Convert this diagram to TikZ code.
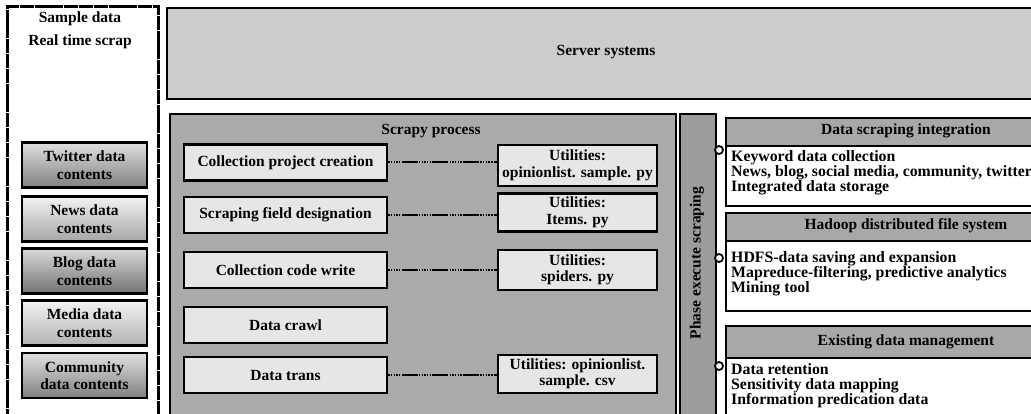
\documentclass[tikz,border=0pt]{standalone}
\usepackage{fontspec}
\setmainfont{Liberation Serif}
\definecolor{serverfill}{HTML}{CCCCCC}
\definecolor{panelfill}{HTML}{AAAAAA}
\definecolor{boxfill}{HTML}{E6E6E6}
\definecolor{headfill}{HTML}{A8A8A8}
\begin{document}
\begin{tikzpicture}[x=1pt,y=-1pt]
\tikzset{
  txt/.style={font=\bfseries\fontsize{15.5}{17}\selectfont, inner sep=0pt, align=center},
  srcbox/.style={draw, line width=2.2pt, minimum width=125pt, minimum height=45pt, align=center, inner sep=1pt, font=\bfseries\fontsize{15.5}{17.5}\selectfont},
  stepbox/.style={draw, line width=2.2pt, fill=boxfill, minimum width=203pt, minimum height=36pt, font=\bfseries\fontsize{15.5}{17}\selectfont},
  utilbox/.style={draw, line width=2.2pt, fill=boxfill, minimum width=159pt, align=center, inner sep=1pt, font=\bfseries\fontsize{15.5}{16.5}\selectfont},
  bigpanel/.style={draw, line width=1.6pt, anchor=north west, inner sep=0pt},
  headbox/.style={draw, line width=2pt, fill=headfill, minimum width=365pt, anchor=north west, inner sep=0pt},
  bodybox/.style={draw, line width=2pt, fill=white, minimum width=365pt, anchor=north west, inner sep=0pt},
  bodytxt/.style={anchor=north west, align=left, inner sep=0pt, font=\bfseries\fontsize{15.8}{15.2}\selectfont},
  conn/.style={line width=2pt, dash pattern=on 1.5pt off 1.2pt on 1.5pt off 1.2pt on 1.5pt off 1.2pt on 1.5pt off 1.2pt on 1.5pt off 1.2pt on 16pt off 1.2pt},
  dotc/.style={circle, draw, line width=1.8pt, fill=white, minimum size=8pt, inner sep=0pt},
}
\clip (0,0) rectangle (1031,414);
\path[use as bounding box] (0,0) rectangle (1031,414);
\fill[white] (0,0) rectangle (1031,414);

% left panel
\node[bigpanel, line width=2.8pt, dash pattern=on 14pt off 0.8pt, minimum width=151pt, minimum height=420pt] (leftpanel) at (6,5) {};
\node[txt] (sample) at (80,19) {Sample data};
\node[txt] (realtime) at (80,42) {Real time scrap};
\node[srcbox, top color=black!12, bottom color=black!50] (tw) at (84.5,165) {Twitter data\\contents};
\node[srcbox, top color=black!5, bottom color=black!35] (nw) at (84.5,219) {News data\\contents};
\node[srcbox, top color=black!15, bottom color=black!55] (bl) at (84.5,271) {Blog data\\contents};
\node[srcbox, top color=black!5, bottom color=black!30] (md) at (84.5,323) {Media data\\contents};
\node[srcbox, top color=black!12, bottom color=black!50] (cm) at (84.5,375.5) {Community\\data contents};

% server systems
\node[bigpanel, line width=2.2pt, fill=serverfill, minimum width=930pt, minimum height=91pt] (server) at (166,7) {};
\node[txt] (servertxt) at (606,52) {Server systems};

% scrapy process panel
\node[bigpanel, fill=panelfill, minimum width=506pt, minimum height=310pt] (scrapy) at (169,113) {};
\node[txt] (scrapytitle) at (431,131) {Scrapy process};
\node[stepbox] (b1) at (285.5,162.5) {Collection project creation};
\node[stepbox] (b2) at (285.5,215) {Scraping field designation};
\node[stepbox] (b3) at (285.5,270) {Collection code write};
\node[stepbox] (b4) at (285.5,325) {Data crawl};
\node[stepbox] (b5) at (285.5,375) {Data trans};

\node[utilbox, minimum height=41pt] (u1) at (577.5,165.5) {Utilities:\\opinionlist. sample. py};
\node[utilbox, minimum height=38pt] (u2) at (577.5,212.5) {Utilities:\\Items. py};
\node[utilbox, minimum height=40pt] (u3) at (577.5,270) {Utilities:\\spiders. py};
\node[utilbox, minimum height=38pt] (u5) at (577.5,374) {Utilities: opinionlist.\\sample. csv};

\draw[conn] (b1.east) -- (b1.east -| u1.west);
\draw[conn] (b2.east) -- (b2.east -| u2.west);
\draw[conn] (b3.east) -- (b3.east -| u3.west);
\draw[conn] (b5.east) -- (b5.east -| u5.west);

% phase column
\node[bigpanel, fill=panelfill!92!black, minimum width=36pt, minimum height=310pt] (phase) at (679,113) {};
\node[txt, rotate=90] (phasetxt) at (697,263) {Phase execute scraping};

% right panels
\node[bodybox, minimum height=60pt] (p1body) at (725,145) {};
\node[bodytxt] (p1txt) at (731,150) {Keyword data collection\\News, blog, social media, community, twitter\\Integrated data storage};
\node[headbox, minimum height=28pt] (p1head) at (725,117) {};
\node[txt] (p1title) at (906,131) {Data scraping integration};

\node[bodybox, minimum height=70pt] (p2body) at (725,240) {};
\node[bodytxt] (p2txt) at (731,251) {HDFS-data saving and expansion\\Mapreduce-filtering, predictive analytics\\Mining tool};
\node[headbox, minimum height=28pt] (p2head) at (725,212) {};
\node[txt] (p2title) at (906,226) {Hadoop distributed file system};

\node[bodybox, minimum height=70pt] (p3body) at (725,357) {};
\node[bodytxt] (p3txt) at (731,363) {Data retention\\Sensitivity data mapping\\Information predication data};
\node[headbox, minimum height=32pt] (p3head) at (725,325) {};
\node[txt] (p3title) at (906,342) {Existing data management};

\node[dotc] (c1) at (719,150) {};
\node[dotc] (c2) at (719,258) {};
\node[dotc] (c3) at (719,366) {};
\end{tikzpicture}
\end{document}
